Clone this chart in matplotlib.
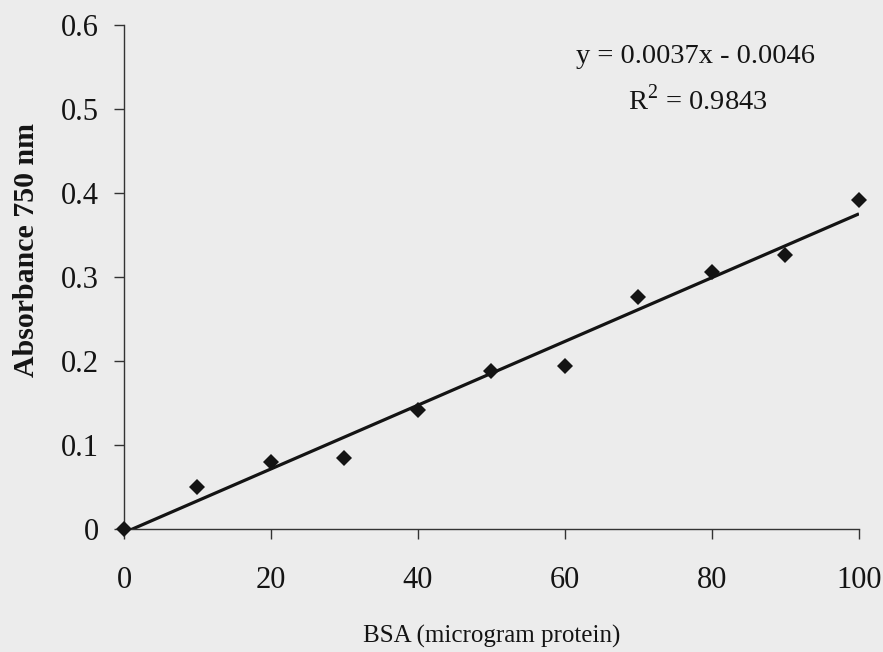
import numpy as np
import matplotlib
matplotlib.use("Agg")
import matplotlib.pyplot as plt

# Data
bsa = [0, 10, 20, 30, 40, 50, 60, 70, 80, 90, 100]
absorbance = [0.0, 0.05, 0.08, 0.085, 0.142, 0.188, 0.194, 0.276, 0.306, 0.326, 0.392]
x_ticks = [0, 20, 40, 60, 80, 100]
y_ticks = [0, 0.1, 0.2, 0.3, 0.4, 0.5, 0.6]
y_tick_labels = ["0", "0.1", "0.2", "0.3", "0.4", "0.5", "0.6"]
equation_text = "y = 0.0037x - 0.0046"
r2_text = r"R$^{2}$ = 0.9843"
x_label = "BSA (microgram protein)"
y_label = "Absorbance 750 nm"

plt.rcParams['font.family'] = ['Liberation Serif', 'DejaVu Serif']
plt.rcParams['mathtext.fontset'] = 'custom'
plt.rcParams['mathtext.rm'] = 'Liberation Serif'

bg = '#ececec'
ink = '#141414'
fig = plt.figure(figsize=(8.83, 6.52), dpi=100, facecolor=bg)
ax = fig.add_axes([0.1404, 0.1887, 0.8324, 0.773])
ax.set_facecolor(bg)

# trend line (least squares of the data)
slope, intercept = np.polyfit(bsa, absorbance, 1)
xs = np.array([bsa[0], bsa[-1]])
ax.plot(xs, slope * xs + intercept, color=ink, lw=2.3, solid_capstyle='butt', zorder=2)
ax.plot(bsa, absorbance, linestyle='none', marker='D', markersize=8.5,
        color=ink, markeredgewidth=0, zorder=3, clip_on=False)

ax.set_xlim(0, 100)
ax.set_ylim(0, 0.6)
ax.set_xticks(x_ticks)
ax.set_yticks(y_ticks)
ax.set_yticklabels(y_tick_labels)

for s in ['top', 'right']:
    ax.spines[s].set_visible(False)
for s in ['left', 'bottom']:
    ax.spines[s].set_color('#333333')
    ax.spines[s].set_linewidth(1.0)

ax.tick_params(axis='y', direction='out', length=7, width=1.0, color='#333333',
               labelsize=22, pad=11, labelcolor=ink)
ax.tick_params(axis='x', direction='out', length=7, width=1.0, color='#333333',
               labelsize=22, pad=20, labelcolor=ink)

ax.set_xlabel(x_label, fontsize=18, color=ink, labelpad=21)
ax.set_ylabel(y_label, fontsize=21.5, fontweight='bold', color=ink)
ax.yaxis.set_label_coords(-0.114, 0.553)

ax.text(0.777, 0.9365, equation_text, transform=ax.transAxes, ha='center', va='center',
        fontsize=20.5, color=ink)
ax.text(0.78, 0.851, r2_text, transform=ax.transAxes, ha='center', va='center',
        fontsize=20.5, color=ink)

fig.savefig('out.png', dpi=100, facecolor=bg)
